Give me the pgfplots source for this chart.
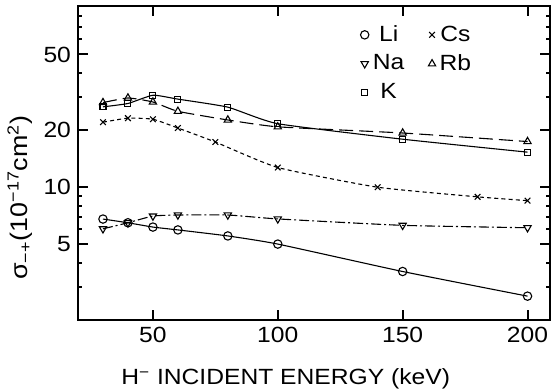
\documentclass[border=0pt]{standalone}
\usepackage{pgfplots}
\pgfplotsset{compat=1.18}
\usepackage{fontspec}
\setmainfont{Liberation Sans}[FakeStretch=1.12]
\begin{document}
\begin{tikzpicture}
\begin{axis}[
  name=ax,
  scale only axis,
  width=236pt, height=157pt,
  ymode=log,
  xmin=20, xmax=209,
  ymin=2, ymax=90,
  xtick={50,100,150,200},
  ytick={5,10,20,50},
  yticklabels={5,10,20,50},
  minor ytick={3,4,6,7,8,9,30,40,60,70,80},
  /pgf/number format/assume math mode=true,
  tick align=inside,
  major tick length=5pt,
  minor tick length=2.2pt,
  every tick/.style={black, line width=1pt},
  axis line style={line width=1.2pt},
  every tick label/.append style={font=\fontsize{11}{13}\selectfont},
  xlabel={H\textsuperscript{−} INCIDENT ENERGY (keV)},
  xlabel style={at={(axis description cs:0.44,-0.207)}, anchor=base, font=\fontsize{11}{13}\selectfont},
  ylabel={σ\textsubscript{−+}(10\textsuperscript{−17}cm\textsuperscript{2})},
  ylabel style={at={(axis description cs:-0.123,0.39)}, anchor=center, font=\fontsize{12}{14}\selectfont},
  legend columns=2,
  legend style={draw=none, fill=none, at={(axis description cs:0.585,0.965)}, anchor=north west,
    font=\fontsize{11}{13}\selectfont, row sep=1pt,
    /tikz/every even column/.append style={column sep=10pt}},
  legend image code/.code={\draw[#1,only marks] plot coordinates {(0.15cm,0cm)};},
  every axis plot/.append style={line width=0.55pt, black, smooth, tension=0.3},
]
% Li
\addplot[mark=o, mark size=2.1pt, mark options={solid, fill=white}] coordinates {
(30,6.8) (40,6.5) (50,6.17) (60,5.96) (80,5.54) (100,5.02) (150,3.6) (200,2.67)};
\addlegendentry{Li}
% Cs
\addplot[mark=x, mark size=2pt, mark options={solid}, dash pattern=on 2pt off 1.6pt] coordinates {
(30,22.0) (40,23.1) (50,22.8) (60,20.5) (75,17.3) (100,12.7) (140,10.0) (180,8.9) (200,8.5)};
\addlegendentry{Cs}
% Na
\addplot[mark=triangle, mark size=2.1pt, mark options={solid, rotate=180, fill=white}, dash pattern=on 5pt off 1.5pt on 1pt off 1.5pt] coordinates {
(30,6.04) (40,6.5) (50,7.05) (60,7.14) (80,7.14) (100,6.81) (150,6.3) (200,6.12)};
\addlegendentry{Na}
% Rb
\addplot[mark=triangle, mark size=2.1pt, mark options={solid, fill=white}, dash pattern=on 7pt off 3pt] coordinates {
(30,27.9) (40,29.5) (50,28.1) (60,25.1) (80,22.6) (100,20.8) (150,19.3) (200,17.4)};
\addlegendentry{Rb}
% K
\addplot[mark=square, mark size=1.5pt, mark options={solid, fill=white}] coordinates {
(30,26.5) (40,27.6) (50,30.5) (60,29.1) (80,26.4) (100,21.6) (150,17.9) (200,15.3)};
\addlegendentry{K}
\end{axis}
\pgfresetboundingbox
\path ([shift={(-39pt,-34.5pt)}]ax.south west) rectangle ([shift={(1.5pt,3pt)}]ax.north east);
\end{tikzpicture}
\end{document}
